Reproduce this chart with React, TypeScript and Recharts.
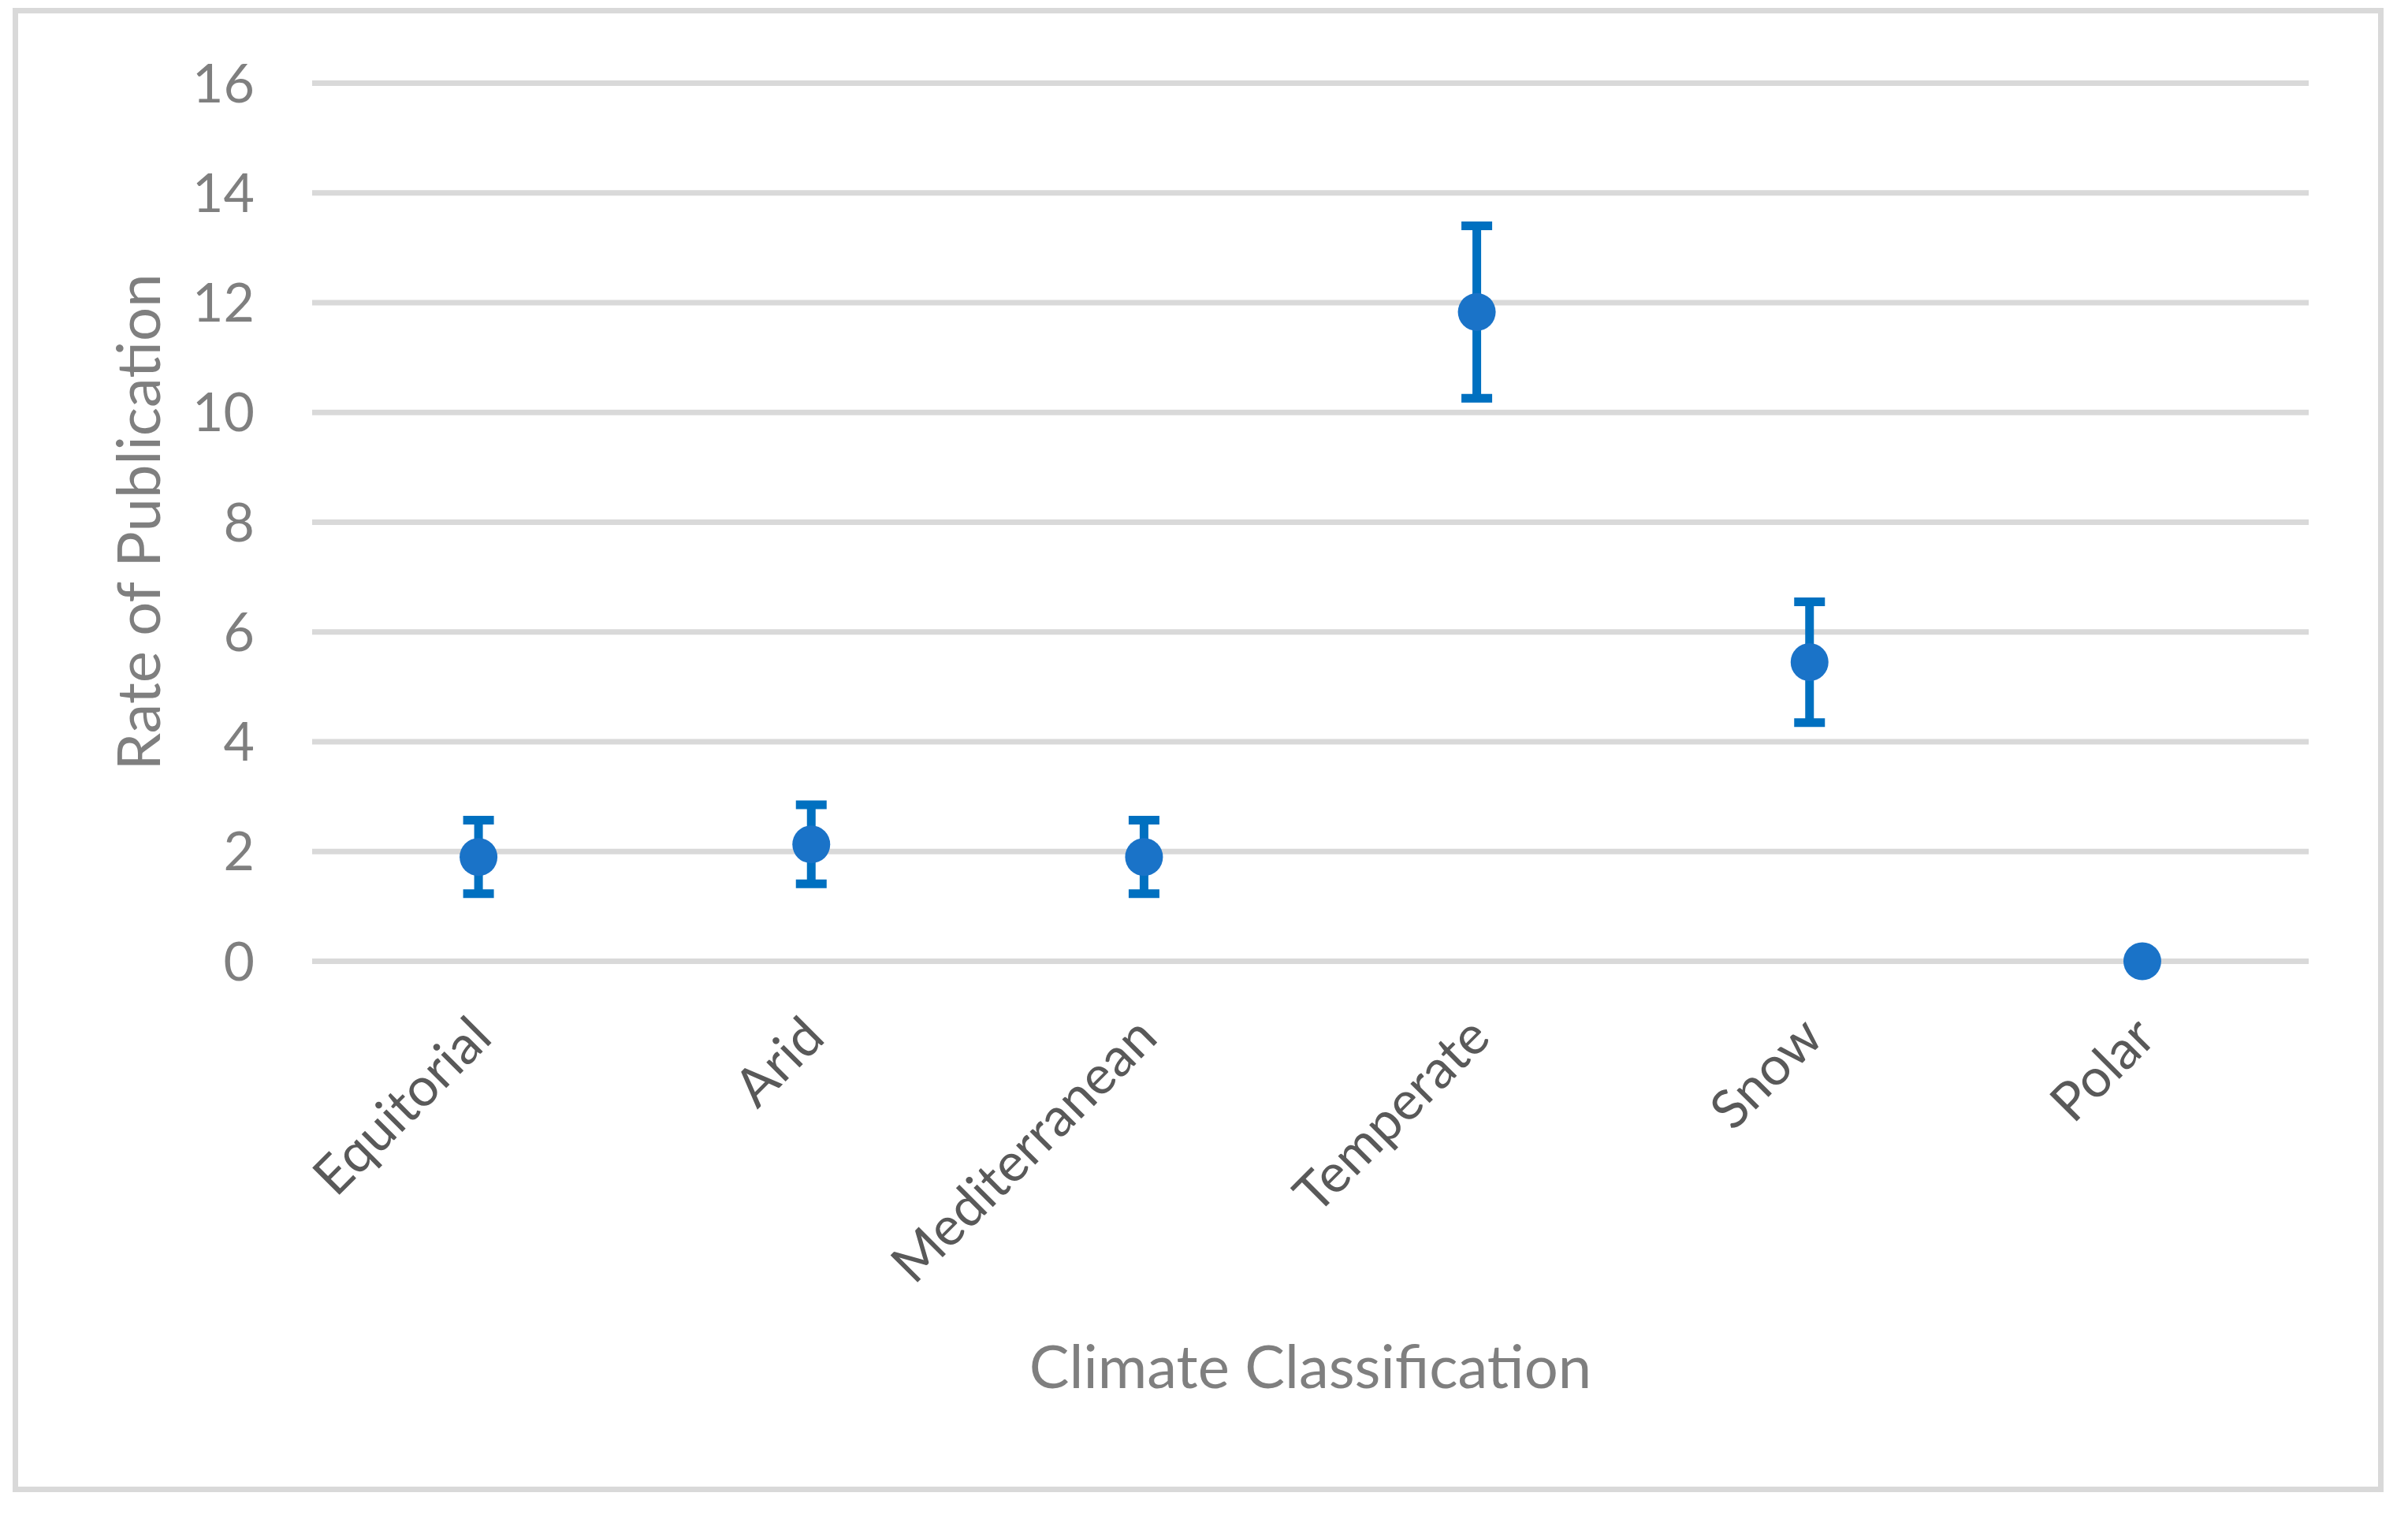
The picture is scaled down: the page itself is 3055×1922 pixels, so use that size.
import { ComposedChart, Scatter, ErrorBar, XAxis, YAxis, CartesianGrid } from 'recharts';

const categories = ['Equitorial', 'Arid', 'Mediterranean', 'Temperate', 'Snow', 'Polar'];
const rates = [1.9, 2.13, 1.9, 11.83, 5.45, 0];
const errors = [0.67, 0.72, 0.67, 1.57, 1.1, 0];
const yTicks = [0, 2, 4, 6, 8, 10, 12, 14, 16];

const data = categories.map((name, i) => ({ name, rate: rates[i], err: errors[i] }));

const W = 3055;
const H = 1922;
const PLOT_TOP = 105.5;
const PLOT_BOTTOM = 1219.5;
const PLOT_LEFT = 396;
const PLOT_RIGHT = 2929;
// half of one category band, so points sit in the middle of each band
const HALF_BAND = (PLOT_RIGHT - PLOT_LEFT) / categories.length / 2;

const FONT = 'Lato, "Open Sans", sans-serif';
const GRAY = '#7f7f7f';

function CategoryTick({ x, payload }: any) {
  const ax = x + 20;
  const ay = PLOT_BOTTOM + 100;
  return (
    <text
      x={ax}
      y={ay}
      textAnchor="end"
      transform={`rotate(-45, ${ax}, ${ay})`}
      fill="#595959"
      fontSize={68}
      fontFamily={FONT}
    >
      {payload.value}
    </text>
  );
}

function YTitle() {
  const x = 203;
  const y = (PLOT_TOP + PLOT_BOTTOM) / 2;
  return (
    <text x={x} y={y} transform={`rotate(-90, ${x}, ${y})`} textAnchor="middle" fill={GRAY} fontSize={76} fontFamily={FONT}>
      Rate of Publication
    </text>
  );
}

function XTitle() {
  return (
    <text x={(PLOT_LEFT + PLOT_RIGHT) / 2} y={1761} textAnchor="middle" fill={GRAY} fontSize={76} fontFamily={FONT}>
      Climate Classification
    </text>
  );
}

function Dot({ cx, cy }: any) {
  return <circle cx={cx} cy={cy} r={24} fill="#1a73c8" />;
}

export default function App() {
  return (
    <div style={{ position: 'absolute', left: 0, top: 0, width: W, height: H, background: '#fff' }}>
      <div
        style={{
          position: 'absolute',
          left: 16,
          top: 10,
          width: 3008,
          height: 1883,
          boxSizing: 'border-box',
          border: '7px solid #d9d9d9',
        }}
      />
      <ComposedChart
        width={W}
        height={H}
        data={data}
        margin={{ top: PLOT_TOP, right: W - PLOT_RIGHT, left: PLOT_LEFT - 300, bottom: H - PLOT_BOTTOM - 541.5 }}
        style={{ position: 'absolute', left: 0, top: 0, fontFamily: FONT }}
      >
        <CartesianGrid vertical={false} stroke="#d9d9d9" strokeWidth={7} />
        <XAxis
          dataKey="name"
          type="category"
          interval={0}
          axisLine={false}
          tickLine={false}
          height={541.5}
          padding={{ left: HALF_BAND, right: HALF_BAND }}
          tick={<CategoryTick />}
          label={{ content: () => <XTitle /> }}
        />
        <YAxis
          type="number"
          domain={[0, 16]}
          ticks={yTicks}
          width={300}
          axisLine={false}
          tickLine={false}
          tickSize={8}
          tickMargin={65}
          tick={{ fill: GRAY, fontSize: 68, fontFamily: FONT }}
          label={{ content: () => <YTitle /> }}
        />
        <Scatter dataKey="rate" shape={<Dot />} isAnimationActive={false}>
          <ErrorBar dataKey="err" direction="y" width={19.5} strokeWidth={11} stroke="#0070c0" />
        </Scatter>
      </ComposedChart>
    </div>
  );
}
